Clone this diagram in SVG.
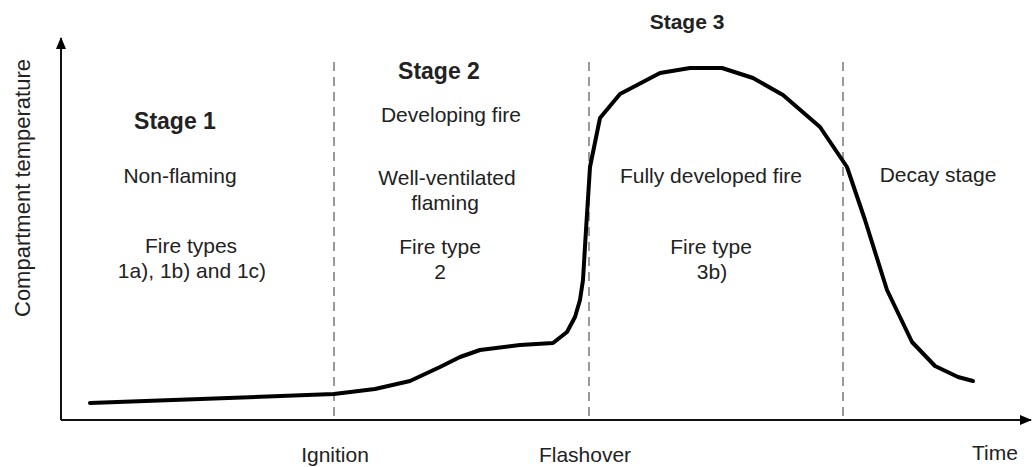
<svg xmlns="http://www.w3.org/2000/svg" width="1033" height="467" viewBox="0 0 1033 467">
<style>
text{font-family:"Liberation Sans",Arial,sans-serif;fill:#222;font-size:21px;text-anchor:middle}
.b{font-weight:bold;font-size:23px}
.axis{stroke:#111;stroke-width:2;fill:none}
.dash{stroke:#999;stroke-width:2;stroke-dasharray:9 6;fill:none}
.curve{stroke:#000;stroke-width:4;fill:none;stroke-linejoin:round;stroke-linecap:round}
</style>
<defs>
<marker id="ah" markerWidth="12" markerHeight="10" refX="11" refY="5" orient="auto" markerUnits="userSpaceOnUse">
<path d="M0,0 L12,5 L0,10 Z" fill="#000"/>
</marker>
</defs>
<g id="connectors">
<path class="axis" d="M61,420 L61,38" marker-end="url(#ah)"/>
<path class="axis" d="M61,420 L1031,420" marker-end="url(#ah)"/>
<path class="dash" d="M334,62 L334,420"/>
<path class="dash" d="M589,62 L589,420"/>
<path class="dash" d="M843,62 L843,420"/>
<path class="curve" d="M90,403 L334,394 L375,389 L410,381 L440,367 L460,357 L480,350 L520,345 L553,343 L567,332 L575,317 L580,300 L583,280 L586,230 L590,167 L600,118 L620,94 L660,73 L690,68 L722,68 L753,78 L783,95 L820,127 L847,167 L865,220 L887,290 L912,342 L935,366 L958,377 L973,381"/>
</g>
<g id="labels">
<text x="22" y="188" transform="rotate(-90 22 188)" dy="8" style="font-size:22px">Compartment temperature</text>
<text class="b" x="175" y="129">Stage 1</text>
<text x="180" y="183">Non-flaming</text>
<text x="191" y="253">Fire types</text>
<text x="192" y="278">1a), 1b) and 1c)</text>
<text class="b" x="439" y="79">Stage 2</text>
<text x="451" y="122">Developing fire</text>
<text x="447" y="185">Well-ventilated</text>
<text x="445" y="210">flaming</text>
<text x="440" y="254">Fire type</text>
<text x="440" y="279">2</text>
<text class="b" x="687" y="29" style="font-size:21px">Stage 3</text>
<text x="711" y="183">Fully developed fire</text>
<text x="938" y="182">Decay stage</text>
<text x="711" y="254">Fire type</text>
<text x="712" y="279">3b)</text>
<text x="335" y="462">Ignition</text>
<text x="585" y="462">Flashover</text>
<text x="995" y="460">Time</text>
</g>
</svg>
